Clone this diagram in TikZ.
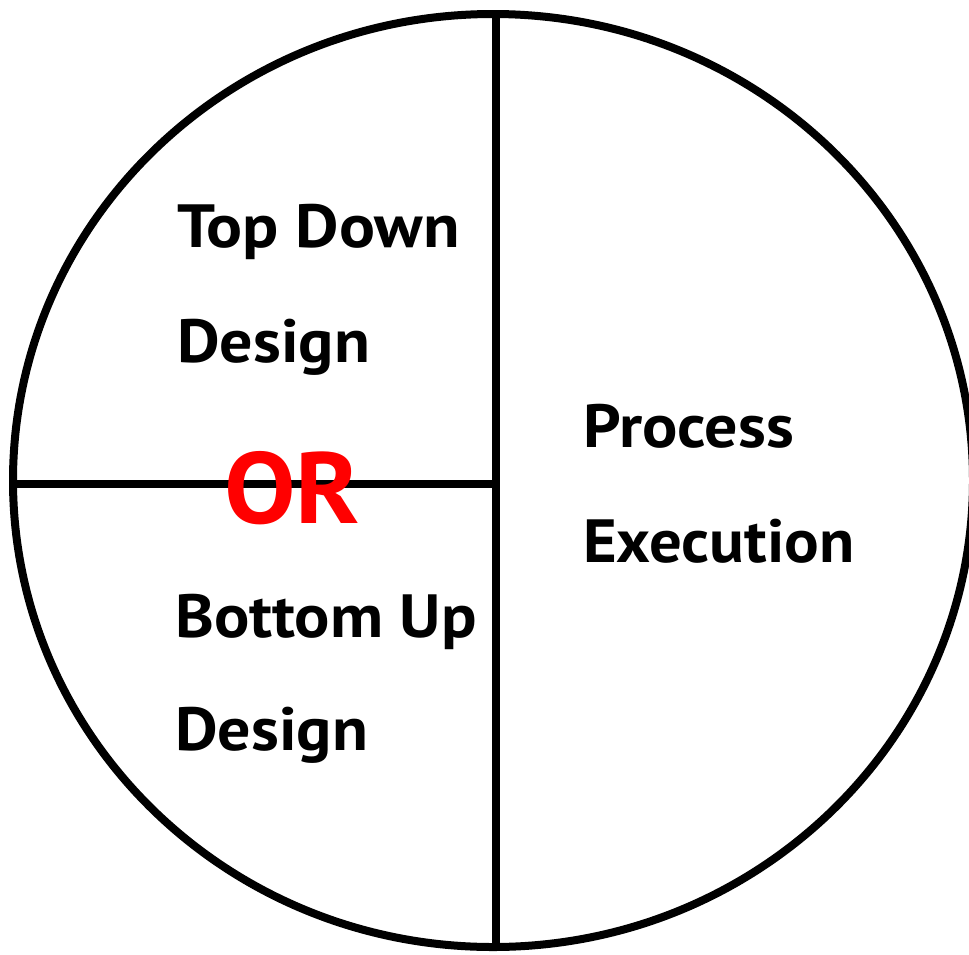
\documentclass[tikz,border=0pt]{standalone}
\usepackage{fontspec}
\setmainfont{PT Sans}
\begin{document}
\begin{tikzpicture}[x=1pt,y=-1pt,
  lbl/.style={anchor=base west,inner sep=0pt,font=\fontsize{61}{61}\selectfont\bfseries},
  orlbl/.style={anchor=base west,inner sep=0pt,text=red,font=\fontsize{101}{101}\selectfont\bfseries},
  stroke/.style={line width=8pt,black}]
\useasboundingbox (0,0) rectangle (969,954);
\draw[stroke] (493,480.5) ellipse [x radius=480, y radius=466.5];
\coordinate (vtop) at (496,14);
\coordinate (vbot) at (496,946);
\coordinate (hleft) at (13,484);
\coordinate (hright) at (496,484);
\draw[stroke] (vtop) -- (vbot);
\draw[stroke] (hleft) -- (hright);
\node[lbl] (t1) at (177,247) {\scalebox{1.1}[1]{Top Down}};
\node[lbl] (t2) at (177,362) {\scalebox{1.08}[1]{Design}};
\node[orlbl] (or) at (224,523) {\scalebox{1.06}[1]{OR}};
\node[lbl] (b1) at (175,637) {\scalebox{1.08}[1]{Bottom Up}};
\node[lbl] (b2) at (175,750) {\scalebox{1.08}[1]{Design}};
\node[lbl] (p1) at (583,447) {\scalebox{1.08}[1]{Process}};
\node[lbl] (p2) at (583,562) {\scalebox{1.06}[1]{Execution}};
\end{tikzpicture}
\end{document}
